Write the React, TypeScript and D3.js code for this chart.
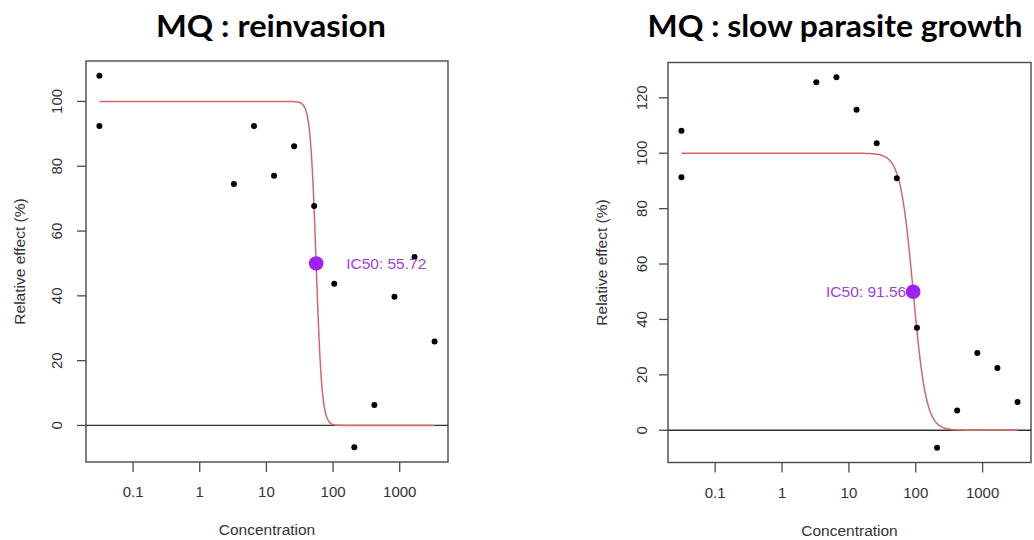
import React from "react";
import * as d3 from "d3";

const concentrations = [0.03125, 0.03125, 3.255, 6.51, 13.02, 26.04, 52.08, 104.17, 208.33, 416.67, 833.33, 1666.67, 3333.33];
const reinvasionValues = [107.9, 92.4, 74.5, 92.4, 77.1, 86.2, 67.7, 43.7, -6.7, 6.3, 39.7, 52.0, 25.9];
const growthValues = [108.1, 91.3, 125.6, 127.4, 115.7, 103.6, 91.0, 37.0, -6.3, 7.1, 27.9, 22.5, 10.2];
const xTicks = [0.1, 1, 10, 100, 1000];
const xTickLabels = ["0.1", "1", "10", "100", "1000"];
const reinvasionYTicks = [0, 20, 40, 60, 80, 100];
const growthYTicks = [0, 20, 40, 60, 80, 100, 120];

type PanelProps = {
  title: string;
  titleX: number;
  titleWidth: number;
  values: number[];
  yTicks: number[];
  ic50: number;
  hill: number;
  box: { x0: number; x1: number; y0: number; y1: number };
  labelSide: "right" | "left";
  tickLabelOffset: number;
};

const FONT = "'Liberation Sans', Arial, sans-serif";

function Panel(p: PanelProps) {
  const { box } = p;
  const logX = concentrations.map((c) => Math.log10(c));
  const lx0 = d3.min(logX)!;
  const lx1 = d3.max(logX)!;
  const lpad = (lx1 - lx0) * 0.04;
  const x = d3
    .scaleLog()
    .domain([Math.pow(10, lx0 - lpad), Math.pow(10, lx1 + lpad)])
    .range([box.x0, box.x1]);
  const ymin = d3.min(p.values)!;
  const ymax = d3.max(p.values)!;
  const ypad = (ymax - ymin) * 0.04;
  const y = d3.scaleLinear().domain([ymin - ypad, ymax + ypad]).range([box.y1, box.y0]);

  const model = (c: number) => 100 / (1 + Math.pow(c / p.ic50, p.hill));
  const samples = d3.range(0, 401).map((i) => Math.pow(10, lx0 + ((lx1 - lx0) * i) / 400));
  const line = d3
    .line<number>()
    .x((c) => x(c))
    .y((c) => y(model(c)));

  const axisColor = "#4a4a4a";
  const cx = x(p.ic50);
  const cy = y(50);
  const midY = (box.y0 + box.y1) / 2;
  const midX = (box.x0 + box.x1) / 2;

  return (
    <g>
      <text
        x={p.titleX}
        y={37}
        textAnchor="middle"
        fontFamily="Lato, 'Open Sans', sans-serif"
        fontWeight={700}
        fontSize={31}
        fill="#000"
        textLength={p.titleWidth}
        lengthAdjust="spacingAndGlyphs"
      >
        {p.title}
      </text>
      <rect x={box.x0} y={box.y0} width={box.x1 - box.x0} height={box.y1 - box.y0} fill="none" stroke={axisColor} strokeWidth={1.4} />
      <line x1={box.x0} x2={box.x1} y1={y(0)} y2={y(0)} stroke="#333" strokeWidth={1.3} />
      {p.yTicks.map((t) => (
        <g key={"y" + t}>
          <line x1={box.x0 - 9} x2={box.x0} y1={y(t)} y2={y(t)} stroke={axisColor} strokeWidth={1.3} />
          <text
            transform={`translate(${box.x0 - p.tickLabelOffset},${y(t)}) rotate(-90)`}
            textAnchor="middle"
            dominantBaseline="central"
            fontFamily={FONT}
            fontSize={15}
            fill="#333"
          >
            {t}
          </text>
        </g>
      ))}
      {xTicks.map((t, i) => (
        <g key={"x" + t}>
          <line x1={x(t)} x2={x(t)} y1={box.y1} y2={box.y1 + 10} stroke={axisColor} strokeWidth={1.3} />
          <text x={x(t)} y={box.y1 + 35} textAnchor="middle" fontFamily={FONT} fontSize={15} fill="#333">
            {xTickLabels[i]}
          </text>
        </g>
      ))}
      <text x={midX} y={box.y1 + 73} textAnchor="middle" fontFamily={FONT} fontSize={15.5} fill="#333">
        Concentration
      </text>
      <text
        transform={`translate(${box.x0 - 67},${midY}) rotate(-90)`}
        textAnchor="middle"
        dominantBaseline="central"
        fontFamily={FONT}
        fontSize={15.5}
        fill="#333"
      >
        Relative effect (%)
      </text>
      <path d={line(samples) || ""} fill="none" stroke="#d06868" strokeWidth={1.5} />
      {concentrations.map((c, i) => (
        <circle key={"p" + i} cx={x(c)} cy={y(p.values[i])} r={3} fill="#000" />
      ))}
      <circle cx={cx} cy={cy} r={7.3} fill="#a020f0" />
      <text
        x={p.labelSide === "right" ? cx + 30 : cx - 7}
        y={cy}
        textAnchor={p.labelSide === "right" ? "start" : "end"}
        dominantBaseline="central"
        fontFamily={FONT}
        fontSize={15.5}
        fill="#a040e0"
      >
        {`IC50: ${p.ic50.toFixed(2)}`}
      </text>
    </g>
  );
}

export default function App() {
  return (
    <svg
      width={1034}
      height={540}
      viewBox="0 0 1034 540"
      style={{ position: "absolute", left: 0, top: 0, background: "#fff" }}
    >
      <rect x={0} y={0} width={1034} height={540} fill="#fff" />
      <Panel
        title="MQ : reinvasion"
        titleX={271}
        titleWidth={230}
        values={reinvasionValues}
        yTicks={reinvasionYTicks}
        ic50={55.72}
        hill={10}
        box={{ x0: 86, x1: 448, y0: 61, y1: 462 }}
        labelSide="right"
        tickLabelOffset={30}
      />
      <Panel
        title="MQ : slow parasite growth"
        titleX={835}
        titleWidth={375}
        values={growthValues}
        yTicks={growthYTicks}
        ic50={91.56}
        hill={4.5}
        box={{ x0: 668, x1: 1031, y0: 62.5, y1: 462.5 }}
        labelSide="left"
        tickLabelOffset={27}
      />
    </svg>
  );
}
